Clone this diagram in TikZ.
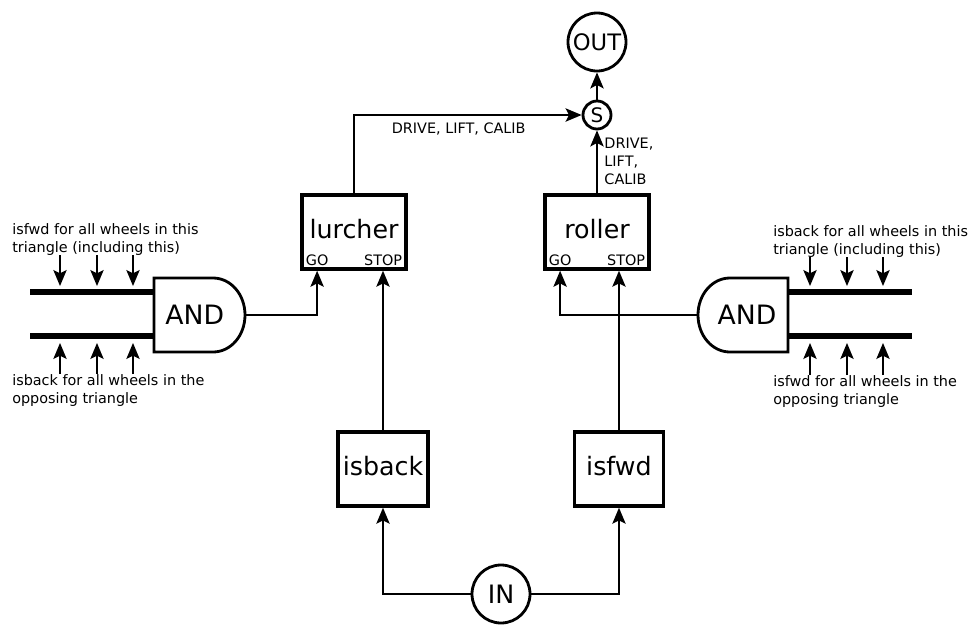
\documentclass[tikz,border=0pt]{standalone}
\usepackage{fontspec}
\setmainfont{DejaVu Sans}
\usetikzlibrary{arrows.meta, positioning}
\tikzset{
	arrow/.style={line width=1.2pt, -{Stealth[length=12pt, width=10pt, inset=2.5pt]}},
	block/.style={draw, line width=2.6pt, minimum height=55.5pt, inner sep=2pt, text depth=5pt, font=\fontsize{19}{23}\selectfont},
	port/.style={inner xsep=4pt, inner ysep=3.5pt, font=\fontsize{10.8}{13}\selectfont},
	ring/.style={circle, draw, line width=2.1pt, inner sep=0pt},
	gate/.style={line width=2.1pt},
	gatetext/.style={inner sep=0pt, minimum height=55.5pt, font=\fontsize{20}{24}\selectfont},
	bus/.style={line width=4.6pt},
	note/.style={align=left, inner sep=0pt, font=\fontsize{10.8}{13.5}\selectfont},
	tag/.style={align=left, inner sep=3pt, font=\fontsize{10.8}{13.5}\selectfont},
}

\begin{document}
\begin{tikzpicture}[x=0.75pt, y=-0.75pt]
	\useasboundingbox (0,0) rectangle (976,626);

	% output side
	\node[ring, minimum size=43.5pt, font=\fontsize{17}{20}\selectfont] (out) at (597,42) {OUT};
	\node[ring, minimum size=21pt, font=\fontsize{15}{18}\selectfont] (s) at (597,115) {S};

	% behaviours
	\node[block, minimum width=78pt] (lurcher) at (354,232) {lurcher};
	\node[port, anchor=south west] (lurcherGO) at (lurcher.south west) {GO};
	\node[port, anchor=south east] (lurcherSTOP) at (lurcher.south east) {STOP};

	\node[block, minimum width=78pt] (roller) at (597,232) {roller};
	\node[port, anchor=south west] (rollerGO) at (roller.south west) {GO};
	\node[port, anchor=south east] (rollerSTOP) at (roller.south east) {STOP};

	% tests
	\node[block, minimum width=67.5pt] (isback) at (383,469) {isback};
	\node[block, minimum width=67pt] (isfwd) at (619,469) {isfwd};
	\node[ring, minimum size=43.5pt, font=\fontsize{19}{23}\selectfont] (in) at (501,594) {IN};

	% left AND gate
	\draw[gate] (154,278) -- (213,278) .. controls (230.7,278) and (245,294.3) .. (245,315)
		.. controls (245,335.7) and (230.7,352) .. (213,352) -- (154,352) -- cycle;
	\node[gatetext, minimum width=68.25pt] (andL) at (199.5,315) {AND\kern7pt};
	\draw[bus] (andL.west) ++(0,-23) -- ++(-124,0);
	\draw[bus] (andL.west) ++(0,21) -- ++(-124,0);

	% right AND gate
	\draw[gate] (788,278) -- (730,278) .. controls (712.3,278) and (698,294.3) .. (698,315)
		.. controls (698,335.7) and (712.3,352) .. (730,352) -- (788,352) -- cycle;
	\node[gatetext, minimum width=67.5pt] (andR) at (743,315) {\kern6pt AND};
	\draw[bus] (andR.east) ++(0,-23) -- ++(124,0);
	\draw[bus] (andR.east) ++(0,21) -- ++(124,0);

	% wheel inputs
	\node[note, anchor=north west] (fwdL) at (12,223) {isfwd for all wheels in this\\triangle (including this)};
	\node[note, anchor=north west] (backL) at (12,374) {isback for all wheels in the\\opposing triangle};
	\node[note, anchor=north west] (backR) at (773,225) {isback for all wheels in this\\triangle (including this)};
	\node[note, anchor=north west] (fwdR) at (773,375) {isfwd for all wheels in the\\opposing triangle};

	\foreach \x in {60,97,133} {
		\draw[arrow] (\x,0 |- fwdL.south) -- (\x,286);
		\draw[arrow] (\x,0 |- backL.north) -- (\x,343);
	}
	\foreach \x in {810,847,883} {
		\draw[arrow] (\x,0 |- backR.south) -- (\x,286);
		\draw[arrow] (\x,0 |- fwdR.north) -- (\x,343);
	}

	% connections
	\draw[arrow] (in) -| (isback);
	\draw[arrow] (in) -| (isfwd);
	\draw[arrow] (isback.north) -- (isback.north |- lurcher.south);
	\draw[arrow] (isfwd.north) -- (isfwd.north |- roller.south);
	\draw[arrow] (andL.east) -| (lurcherGO |- lurcher.south);
	\draw[arrow] (andR.west) -| (rollerGO |- roller.south);
	\draw[arrow] (lurcher) |- node[tag, pos=0.73, below=2pt] {DRIVE, LIFT, CALIB} (s);
	\draw[arrow] (roller) -- node[tag, right=2pt] {DRIVE,\\LIFT,\\CALIB} (s);
	\draw[arrow] (s) -- (out);
\end{tikzpicture}
\end{document}
